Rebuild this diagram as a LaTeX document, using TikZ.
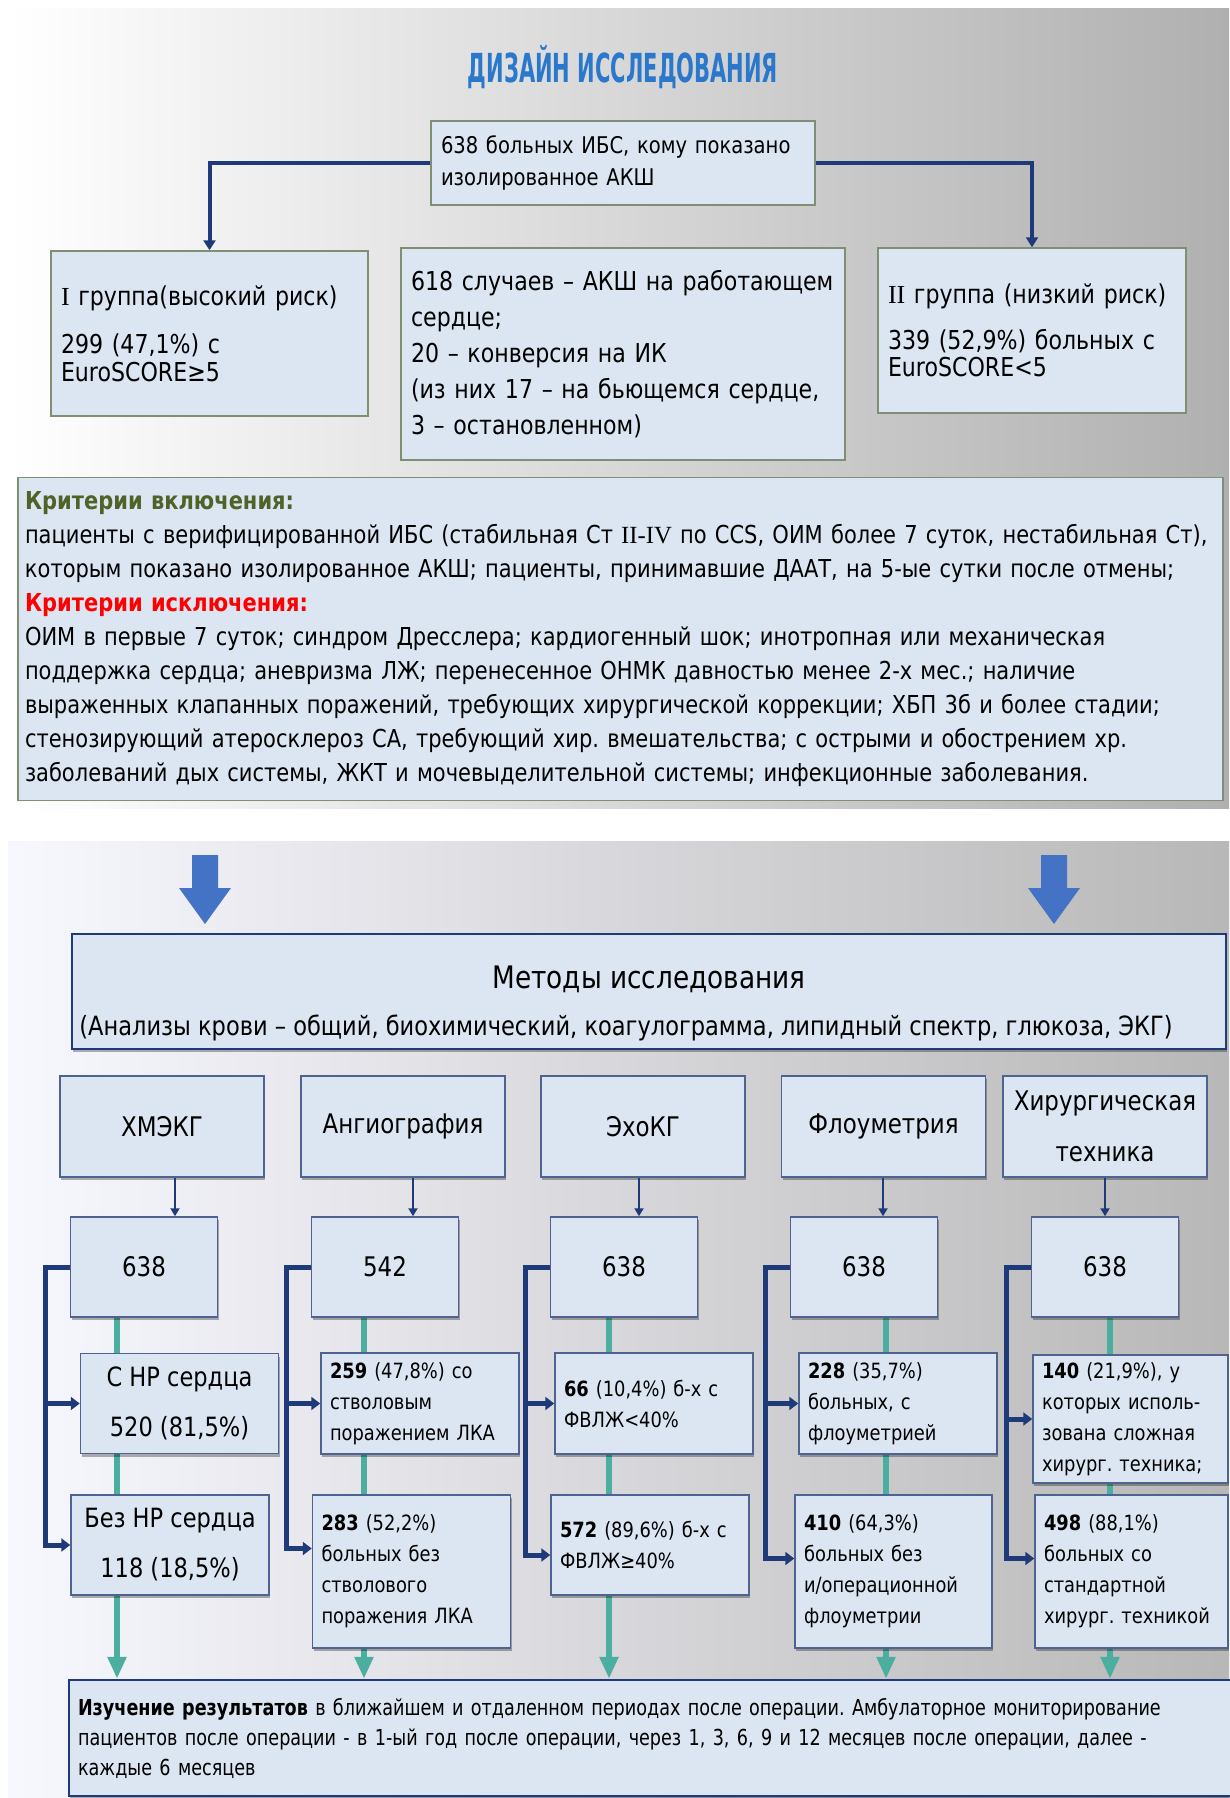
\documentclass[tikz,border=0pt]{standalone}
\usepackage{fontspec}
\setmainfont{DejaVu Sans}[FakeStretch=0.85]
\newfontfamily\titlefont{DejaVu Sans}[FakeStretch=0.525]
\newfontfamily\narrowfont{DejaVu Sans}[FakeStretch=0.8]
\newfontfamily\romanfont{Liberation Serif}
\usetikzlibrary{arrows.meta,calc,shadows}
\pgfdeclarelayer{back}
\pgfdeclarelayer{mid}
\pgfsetlayers{back,mid,main}
\definecolor{boxfill}{HTML}{DCE6F2}
\definecolor{greenedge}{HTML}{7F8F72}
\definecolor{slateedge}{HTML}{4F6390}
\definecolor{darknavy}{HTML}{1F3A78}
\definecolor{tealline}{HTML}{4BAE9E}
\definecolor{blockblue}{HTML}{4472C4}
\definecolor{titleblue}{HTML}{2A78CC}
\definecolor{incgreen}{HTML}{4F6228}
\definecolor{excred}{HTML}{FF0000}
\newcommand\pxfont[2]{\fontsize{#1}{#2}\selectfont}
\frenchspacing
\begin{document}
\begin{tikzpicture}[x=1pt,y=-1pt,
  topbox/.style={draw=greenedge, line width=1.5pt, fill=boxfill, inner xsep=10pt, align=left},
  botbox/.style={draw=slateedge, line width=1.5pt, fill=boxfill, drop shadow={shadow xshift=1pt, shadow yshift=-3pt, fill=black, opacity=0.3}},
  meth/.style={botbox, minimum width=204pt, minimum height=101pt, align=center, font=\pxfont{27}{51}},
  num/.style={botbox, minimum width=147pt, minimum height=100pt, font=\pxfont{27}{32}},
  big/.style={botbox, minimum width=198pt, minimum height=100pt, align=center, font=\pxfont{26.5}{50}},
  sub/.style={botbox, minimum width=198pt, text width=180pt, inner xsep=9pt, align=left, font=\pxfont{21}{31}},
  link/.style={darknavy, line width=4pt, -{Triangle[width=12pt,length=10pt]}},
  thinlink/.style={darknavy, line width=2pt, -{Triangle[width=9pt,length=8pt]}},
  bracket/.style={darknavy, line width=5pt, -{Triangle[width=13pt,length=9pt]}},
  tealarrow/.style={tealline, line width=6pt, -{Triangle[width=18pt,length=22pt]}}]
\useasboundingbox (0,0) rectangle (1229,1798);
\begin{pgfonlayer}{back}
\shade[left color=white, middle color=black!9, right color=black!31] (8,9) rectangle (1229,808);
\shade[left color=blue!3!white, middle color=black!10, right color=black!28] (8,841) rectangle (1229,1798);
\end{pgfonlayer}

\node[text=titleblue, font=\titlefont\bfseries\pxfont{40}{44}] (title) at (623,67) {ДИЗАЙН ИССЛЕДОВАНИЯ};

\node[topbox, minimum width=384pt, minimum height=84pt, text width=364pt, font=\pxfont{23}{32}] (all) at (623,163)
  {638 больных ИБС, кому показано\\изолированное АКШ};
\node[topbox, minimum width=317pt, minimum height=165pt, text width=297pt, font=\pxfont{26}{28}] (grp1) at (209.5,333.5)
  {{\romanfont I} группа(высокий риск)\\[20pt]299 (47,1\%) с\\EuroSCORE≥5};
\node[topbox, minimum width=444pt, minimum height=212pt, text width=424pt, font=\pxfont{26}{36}] (opcab) at (623,354)
  {618 случаев – АКШ на работающем\\сердце;\\20 – конверсия на ИК\\(из них 17 – на бьющемся сердце,\\3 – остановленном)};
\node[topbox, minimum width=308pt, minimum height=165pt, text width=288pt, font=\pxfont{26}{27}] (grp2) at (1032,330.5)
  {{\romanfont II} группа (низкий риск)\\[19pt]339 (52,9\%) больных с\\EuroSCORE<5};
\draw[link] (all.west) -| (grp1.north);
\draw[link] (all.east) -| (grp2.north);

\node[topbox, inner xsep=7pt, minimum width=1205pt, minimum height=323pt, text width=1191pt, font=\pxfont{24.7}{34.1}] (crit) at (620.5,639)
  {\textcolor{incgreen}{\bfseries Критерии включения:}\\
   пациенты с верифицированной ИБС (стабильная Ст {\romanfont II-IV} по CCS, ОИМ более 7 суток, нестабильная Ст),\\
   которым показано изолированное АКШ; пациенты, принимавшие ДААТ, на 5-ые сутки после отмены;\\
   \textcolor{excred}{\bfseries Критерии исключения:}\\
   ОИМ в первые 7 суток; синдром Дресслера; кардиогенный шок; инотропная или механическая\\
   поддержка сердца; аневризма ЛЖ; перенесенное ОНМК давностью менее 2-х мес.; наличие\\
   выраженных клапанных поражений, требующих хирургической коррекции; ХБП 3б и более стадии;\\
   стенозирующий атеросклероз СА, требующий хир. вмешательства; с острыми и обострением хр.\\
   заболеваний дых системы, ЖКТ и мочевыделительной системы; инфекционные заболевания.};

\foreach \x in {205,1054}
  \fill[blockblue] (\x-13,855) -- (\x+13,855) -- (\x+13,888) -- (\x+26,888) -- (\x,924) -- (\x-26,888) -- (\x-13,888) -- cycle;

\node[botbox, draw=darknavy, line width=2.5pt, minimum width=1154pt, minimum height=115pt, align=center, font=\pxfont{26.5}{47}] (methods) at (649,991.5)
  {\rule{0pt}{46pt}{\pxfont{31}{47}Методы исследования}\\(Анализы крови – общий, биохимический, коагулограмма, липидный спектр, глюкоза, ЭКГ)\hspace*{46pt}};

\node[meth] (m1) at (162,1126.5) {ХМЭКГ};
\node[meth] (m2) at (403,1126.5) {Ангиография};
\node[meth] (m3) at (643,1126.5) {ЭхоКГ};
\node[meth] (m4) at (883.5,1126.5) {Флоуметрия};
\node[meth] (m5) at (1105,1126.5) {Хирургическая\\техника};

\node[num] (n1) at (144,1267) {638};
\node[num] (n2) at (385,1267) {542};
\node[num] (n3) at (624,1267) {638};
\node[num] (n4) at (864,1267) {638};
\node[num] (n5) at (1105,1267) {638};
\draw[thinlink] ([xshift=13pt]m1.south) -- ([xshift=31pt]n1.north);
\draw[thinlink] ([xshift=10pt]m2.south) -- ([xshift=28pt]n2.north);
\draw[thinlink] ([xshift=-4pt]m3.south) -- ([xshift=15pt]n3.north);
\draw[thinlink] ([xshift=-0.5pt]m4.south) -- ([xshift=19pt]n4.north);
\draw[thinlink] (m5.south) -- (n5.north);

\node[big] (s1) at (179.5,1403.5) {С НР сердца\\520 (81,5\%)};
\node[sub, minimum height=101pt] (s2) at (420,1403.5) {\textbf{259} (47,8\%) со\\стволовым\\поражением ЛКА};
\node[sub, minimum height=101pt] (s3) at (654,1403.5) {\textbf{66} (10,4\%) б-х с\\ФВЛЖ<40\%};
\node[sub, minimum height=101pt] (s4) at (898,1403.5) {\textbf{228} (35,7\%)\\больных, с\\флоуметрией};
\node[sub, minimum width=195pt, text width=177pt, minimum height=128pt] (s5) at (1130.5,1419) {\textbf{140} (21,9\%), у\\которых исполь-\\зована сложная\\хирург. техника;};

\node[big] (b1) at (170,1545) {Без НР сердца\\118 (18,5\%)};
\node[sub, minimum height=153pt] (b2) at (411.5,1571.5) {\textbf{283} (52,2\%)\\больных без\\стволового\\поражения ЛКА};
\node[sub, minimum height=100pt] (b3) at (650,1545) {\textbf{572} (89,6\%) б-х с\\ФВЛЖ≥40\%};
\node[sub, minimum width=197pt, text width=179pt, minimum height=153pt] (b4) at (893.5,1571.5) {\textbf{410} (64,3\%)\\больных без\\и/операционной\\флоуметрии};
\node[sub, minimum width=193pt, text width=175pt, minimum height=153pt] (b5) at (1131.5,1571.5) {\textbf{498} (88,1\%)\\больных со\\стандартной\\хирург. техникой};

\draw[bracket] (n1.west) -- ++(-24,0) |- (s1.west);
\draw[bracket] (n1.west) -- ++(-24,0) |- (b1.west);
\draw[bracket] (n2.west) -- ++(-24,0) |- (s2.west);
\draw[bracket] (n2.west) -- ++(-24,0) |- ([yshift=23pt]b2.west);
\draw[bracket] (n3.west) -- ++(-24,0) |- (s3.west);
\draw[bracket] (n3.west) -- ++(-24,0) |- ([yshift=-10pt]b3.west);
\draw[bracket] (n4.west) -- ++(-24,0) |- (s4.west);
\draw[bracket] (n4.west) -- ++(-24,0) |- ([yshift=13pt]b4.west);
\draw[bracket] (n5.west) -- ++(-24,0) |- (s5.west);
\draw[bracket] (n5.west) -- ++(-24,0) |- ([yshift=13pt]b5.west);

\node[botbox, draw=darknavy, line width=2.5pt, minimum width=1176pt, minimum height=116pt, text width=1158pt, inner xsep=9pt, align=left, font=\narrowfont\pxfont{22}{30}] (res) at (657,1738)
  {\textbf{Изучение результатов} в ближайшем и отдаленном периодах после операции. Амбулаторное мониторирование\\
   пациентов после операции - в 1-ый год после операции, через 1, 3, 6, 9 и 12 месяцев после операции, далее -\\
   каждые 6 месяцев};

\begin{pgfonlayer}{mid}
\coordinate (t1) at ($(n1.south)+(-27,0)$);
\coordinate (t2) at ($(n2.south)+(-21,0)$);
\coordinate (t3) at ($(n3.south)+(-15,0)$);
\coordinate (t4) at ($(n4.south)+(22,0)$);
\coordinate (t5) at ($(n5.south)+(5,0)$);
\foreach \t in {t1,t2,t3,t4,t5}
  \draw[tealarrow] (\t) -- (\t |- res.north);
\end{pgfonlayer}
\end{tikzpicture}
\end{document}
